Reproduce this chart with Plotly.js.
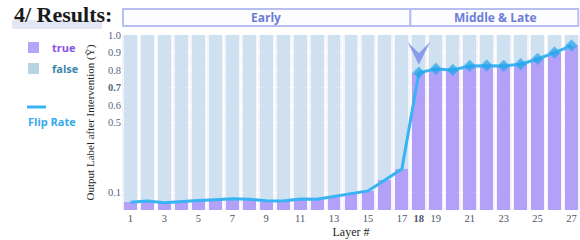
<!DOCTYPE html>
<html><head><meta charset="utf-8">
<script src="https://cdn.plot.ly/plotly-3.0.1.min.js"></script>
<style>html,body{margin:0;padding:0;background:#fff}#chart{width:580px;height:240px}</style>
</head><body><div id="chart"></div>
<script>
// ---- data ----
const layers = [1,2,3,4,5,6,7,8,9,10,11,12,13,14,15,16,17,18,19,20,21,22,23,24,25,26,27];
const trueShare = [0.044,0.051,0.042,0.050,0.055,0.059,0.065,0.061,0.053,0.051,0.063,0.061,0.076,0.091,0.109,0.171,0.234,
                   0.785,0.806,0.800,0.823,0.825,0.823,0.833,0.863,0.899,0.939];
const flipRate = trueShare.slice();
const xTickVals = [1,3,5,7,9,11,13,15,17,18,19,21,23,25,27];
const xTickText = ['1','3','5','7','9','11','13','15','17','<b>18</b>','19','21','23','25','27'];
const yTickVals = [0.1,0.5,0.6,0.7,0.8,0.9,1.0];
const yTickText = ['0.1','0.5','0.6','<b>0.7</b>','0.8','0.9','1.0'];
const phases = [{name:'Early', from:1, to:17},{name:'Middle & Late', from:18, to:27}];
const firstLate = 18;

// ---- geometry helpers ----
const W=580,H=240,L=122,R=0,T=35,B=30;
const PW=W-L-R, PH=H-T-B;
const px = x => (x-L)/PW;
const py = y => (H-B-y)/PH;

const falseShare = trueShare.map(v => 1 - v);
const serif = 'Liberation Serif, Times New Roman, serif';
const sans = 'Open Sans, Noto Sans, sans-serif';

const traces = [
  {type:'bar', x:layers, y:trueShare, name:'true', marker:{color:'#ae99f9', opacity:0.92}, hoverinfo:'skip'},
  {type:'bar', x:layers, y:falseShare, name:'false', marker:{color:'#cbdeee', opacity:0.9}, hoverinfo:'skip'},
  {type:'scatter', mode:'lines+markers', x:layers, y:flipRate, name:'Flip Rate',
   line:{color:'#38b3f3', width:3},
   marker:{symbol:'diamond', color:'#22a2e8', size:layers.map(l => l>=firstLate ? 9 : 0)}, hoverinfo:'skip'}
];

const shapes = [
  // title highlight
  {type:'rect', xref:'paper', yref:'paper', x0:px(12), x1:px(102), y0:py(29), y1:py(20),
   fillcolor:'#e3e7f4', line:{width:0}, layer:'below'},
  // legend swatches
  {type:'rect', xref:'paper', yref:'paper', x0:px(28), x1:px(39), y0:py(53), y1:py(42), fillcolor:'#b6a3fa', line:{width:0}},
  {type:'rect', xref:'paper', yref:'paper', x0:px(28), x1:px(39), y0:py(74), y1:py(63), fillcolor:'#b9d4e1', line:{width:0}},
  {type:'line', xref:'paper', yref:'paper', x0:px(27), x1:px(46), y0:py(107), y1:py(107), line:{color:'#38b3f3', width:3}}
];
const annotations = [
  {xref:'paper', yref:'paper', x:px(12), y:py(15), xanchor:'left', yanchor:'middle', showarrow:false,
   text:'<b>4/ Results:</b>', font:{family:serif, size:22, color:'#1b1b1b'}},
  {xref:'paper', yref:'paper', x:px(50), y:py(47.5), xanchor:'left', yanchor:'middle', showarrow:false,
   text:'<b>true</b>', font:{family:sans, size:11, color:'#8a52e6'}},
  {xref:'paper', yref:'paper', x:px(50), y:py(68.5), xanchor:'left', yanchor:'middle', showarrow:false,
   text:'<b>false</b>', font:{family:sans, size:11, color:'#3c86ac'}},
  {xref:'paper', yref:'paper', x:px(26), y:py(121), xanchor:'left', yanchor:'middle', showarrow:false,
   text:'<b>Flip Rate</b>', font:{family:sans, size:11, color:'#36aaee'}},
  // arrow marking the first middle layer
  {xref:'x', yref:'y', x:firstLate, y:flipRate[layers.indexOf(firstLate)], text:'', showarrow:true,
   ax:0, ay:-19, standoff:8, arrowhead:3, arrowsize:1.9, arrowwidth:2, arrowcolor:'#8c9cec'}
];
phases.forEach((p,i) => {
  shapes.push({type:'rect', xref:'x', yref:'paper', x0:(i===0 ? 0.5 - (L-123)/(PW/27) : p.from-0.5), x1:(i===phases.length-1 ? 27.4 : p.to+0.5),
    y0:py(26), y1:py(9), fillcolor:'#fdfdff', line:{color:'#b7bff1', width:2}});
  annotations.push({xref:'x', yref:'paper', x:(p.from+p.to)/2, y:py(17.5), xanchor:'center', yanchor:'middle', showarrow:false,
    text:'<b>'+p.name+'</b>', font:{family:sans, size:12, color:'#6b7dd8'}});
});

const layout = {
  width:W, height:H, margin:{l:L, r:R, t:T, b:B, pad:0},
  paper_bgcolor:'#ffffff', plot_bgcolor:'#f3f4fb',
  barmode:'stack', bargap:0.24, showlegend:false,
  xaxis:{range:[0.5,27.5], tickmode:'array', tickvals:xTickVals, ticktext:xTickText,
    tickfont:{family:serif, size:10.5, color:'#4b5468'}, showgrid:false, zeroline:false, ticks:'', ticklen:0,
    minor:{tickmode:'linear', tick0:0.5, dtick:1, showgrid:true, gridcolor:'#ffffff', gridwidth:1.2, ticks:''},
    title:{text:'Layer #', font:{family:serif, size:12, color:'#1f1f1f'}, standoff:5}},
  yaxis:{range:[0,1], tickmode:'array', tickvals:yTickVals, ticktext:yTickText,
    tickfont:{family:serif, size:10.5, color:'#5a6480'}, gridcolor:'#ffffff', gridwidth:1, zeroline:false, ticks:'',
    title:{text:'Output Label after Intervention (Y\u0303)', font:{family:serif, size:11, color:'#1f1f1f'}, standoff:11}},
  shapes, annotations
};
Plotly.newPlot('chart', traces, layout, {displayModeBar:false, staticPlot:true});
</script></body></html>
